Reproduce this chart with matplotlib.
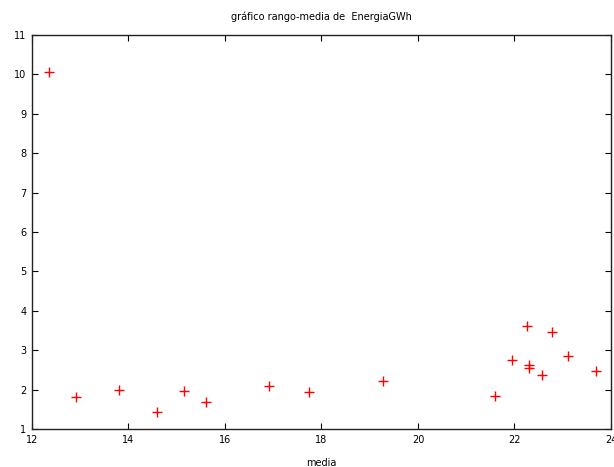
import matplotlib
matplotlib.use("Agg")
import matplotlib.pyplot as plt

media = [12.36, 12.92, 13.80, 14.60, 15.16, 15.60, 16.92, 17.74, 19.27,
         21.60, 21.94, 22.26, 22.30, 22.30, 22.58, 22.78, 23.10, 23.68]
rango = [10.07, 1.81, 1.99, 1.43, 1.96, 1.68, 2.08, 1.95, 2.21,
         1.84, 2.76, 3.61, 2.62, 2.55, 2.37, 3.45, 2.85, 2.46]

xticks = [12, 14, 16, 18, 20, 22, 24]
yticks = [1, 2, 3, 4, 5, 6, 7, 8, 9, 10, 11]

plt.rcParams['font.family'] = 'DejaVu Sans'
fig = plt.figure(figsize=(6.14, 4.67), dpi=100)
ax = fig.add_axes([0.0521, 0.0814, 0.943, 0.8436])

ax.plot(media, rango, linestyle='none', marker='+', color='red',
        markersize=6.5, markeredgewidth=1.0)

ax.set_xlim(12, 24)
ax.set_ylim(1, 11)
ax.set_xticks(xticks)
ax.set_yticks(yticks)
ax.tick_params(direction='in', top=True, right=True, length=4, width=0.8,
               labelsize=7, colors='black', pad=4)
for s in ax.spines.values():
    s.set_linewidth(1.0)
    s.set_color('#222222')

ax.set_xlabel('media', fontsize=7, labelpad=10)
ax.set_title('gráfico rango-media de  EnergiaGWh', fontsize=7, pad=11)

fig.savefig('out.png', dpi=100)
